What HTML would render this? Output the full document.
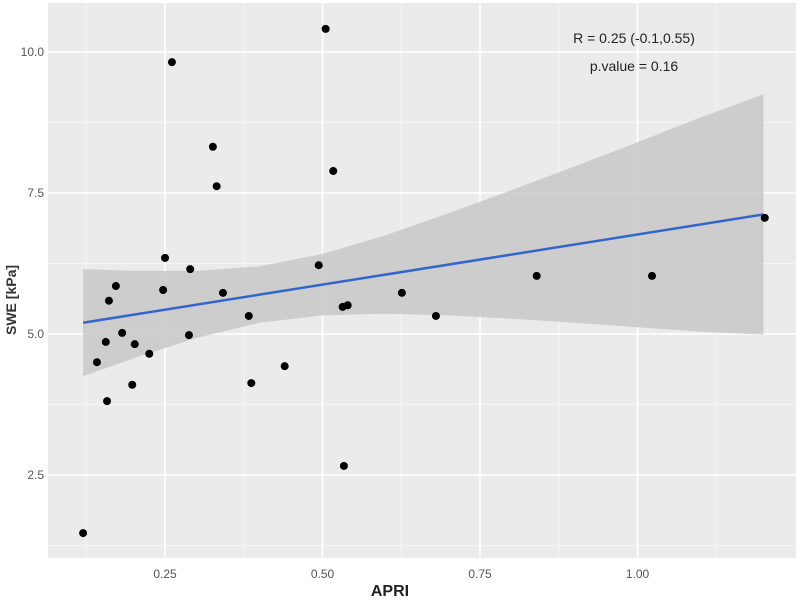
<!DOCTYPE html>
<html><head><meta charset="utf-8"><style>
body{margin:0;background:#fff;}
svg text{font-family:"Liberation Sans",sans-serif;}
</style></head><body>
<svg id="chart" width="800" height="600" xmlns="http://www.w3.org/2000/svg">
<rect x="48" y="3" width="748" height="555" fill="#ebebeb"/>
<g id="grid"></g><g id="band"></g><g id="line"></g><g id="pts"></g><g id="axes"></g>
<text x="634" y="43" font-size="14" text-anchor="middle" fill="#222">R = 0.25 (-0.1,0.55)</text>
<text x="634" y="71" font-size="14" text-anchor="middle" fill="#222">p.value = 0.16</text>
<text x="390" y="596" font-size="16" font-weight="bold" text-anchor="middle" fill="#222">APRI</text>
<text x="0" y="0" font-size="14" font-weight="bold" text-anchor="middle" fill="#333" transform="translate(16,300) rotate(-90)">SWE [kPa]</text>
</svg>
<script>
const apri=[0.12,0.142,0.158,0.156,0.161,0.172,0.182,0.198,0.202,0.225,0.247,0.25,0.261,0.29,0.288,0.326,0.332,0.342,0.383,0.387,0.44,0.494,0.505,0.517,0.534,0.532,0.54,0.626,0.68,0.84,1.023,1.202];
const swe=[1.47,4.50,3.81,4.86,5.59,5.85,5.02,4.10,4.82,4.65,5.78,6.35,9.82,6.15,4.98,8.32,7.62,5.73,5.32,4.13,4.43,6.22,10.41,7.89,2.66,5.48,5.51,5.73,5.32,6.03,6.03,7.06];
const fitX=[0.12,1.2];
const fitY=[5.2,7.12];
const bandX=[0.12,0.2,0.3,0.4,0.5,0.6,0.7,0.8,0.9,1.0,1.1,1.2];
const bandUpper=[6.15,6.12,6.12,6.20,6.42,6.75,7.14,7.55,7.97,8.40,8.84,9.25];
const bandLower=[4.25,4.57,4.93,5.20,5.33,5.36,5.33,5.27,5.20,5.12,5.04,4.99];
const xTicks=[0.25,0.5,0.75,1.0];
const xTickLabels=["0.25","0.50","0.75","1.00"];
const yTicks=[2.5,5.0,7.5,10.0];
const yTickLabels=["2.5","5.0","7.5","10.0"];
const xMinor=[0.125,0.375,0.625,0.875,1.125];
const yMinor=[1.25,3.75,6.25,8.75];
const X=v=>165+(v-0.25)*630;
const Y=v=>334-(v-5)*56.4;
const NS="http://www.w3.org/2000/svg";
function mk(tag,parent,attrs){const e=document.createElementNS(NS,tag);for(const k in attrs)e.setAttribute(k,attrs[k]);document.getElementById(parent).appendChild(e);return e;}
xMinor.forEach(v=>{const e=mk('line','grid',{x1:X(v),x2:X(v),y1:3,y2:558,stroke:'#f5f5f5','stroke-width':1});

});
yMinor.forEach(v=>{const e=mk('line','grid',{x1:48,x2:796,y1:Y(v),y2:Y(v),stroke:'#f5f5f5','stroke-width':1});

});
xTicks.forEach((v,i)=>{const e=mk('line','grid',{x1:X(v),x2:X(v),y1:3,y2:558,stroke:'#fff','stroke-width':1.6});


const t=mk('text','axes',{x:X(v),y:578,'font-size':12,'text-anchor':'middle',fill:'#555'});t.textContent=xTickLabels[i];

});
yTicks.forEach((v,i)=>{const e=mk('line','grid',{x1:48,x2:796,y1:Y(v),y2:Y(v),stroke:'#fff','stroke-width':1.6});


const t=mk('text','axes',{x:44,y:Y(v)+4,'font-size':12,'text-anchor':'end',fill:'#555'});t.textContent=yTickLabels[i];

});
let d='M'+bandX.map((v,i)=>X(v)+','+Y(bandUpper[i])).join('L');
for(let i=bandX.length-1;i>=0;i--)d+='L'+X(bandX[i])+','+Y(bandLower[i]);
const b=mk('path','band',{d:d+'Z',fill:'#c8c8c8','fill-opacity':0.85});


const l=mk('line','line',{x1:X(fitX[0]),y1:Y(fitY[0]),x2:X(fitX[1]),y2:Y(fitY[1]),stroke:'#3366cc','stroke-width':2.5});


apri.forEach((v,i)=>{const c=mk('circle','pts',{cx:X(v),cy:Y(swe[i]),r:4,fill:'#000'});

});
</script>
</body></html>
